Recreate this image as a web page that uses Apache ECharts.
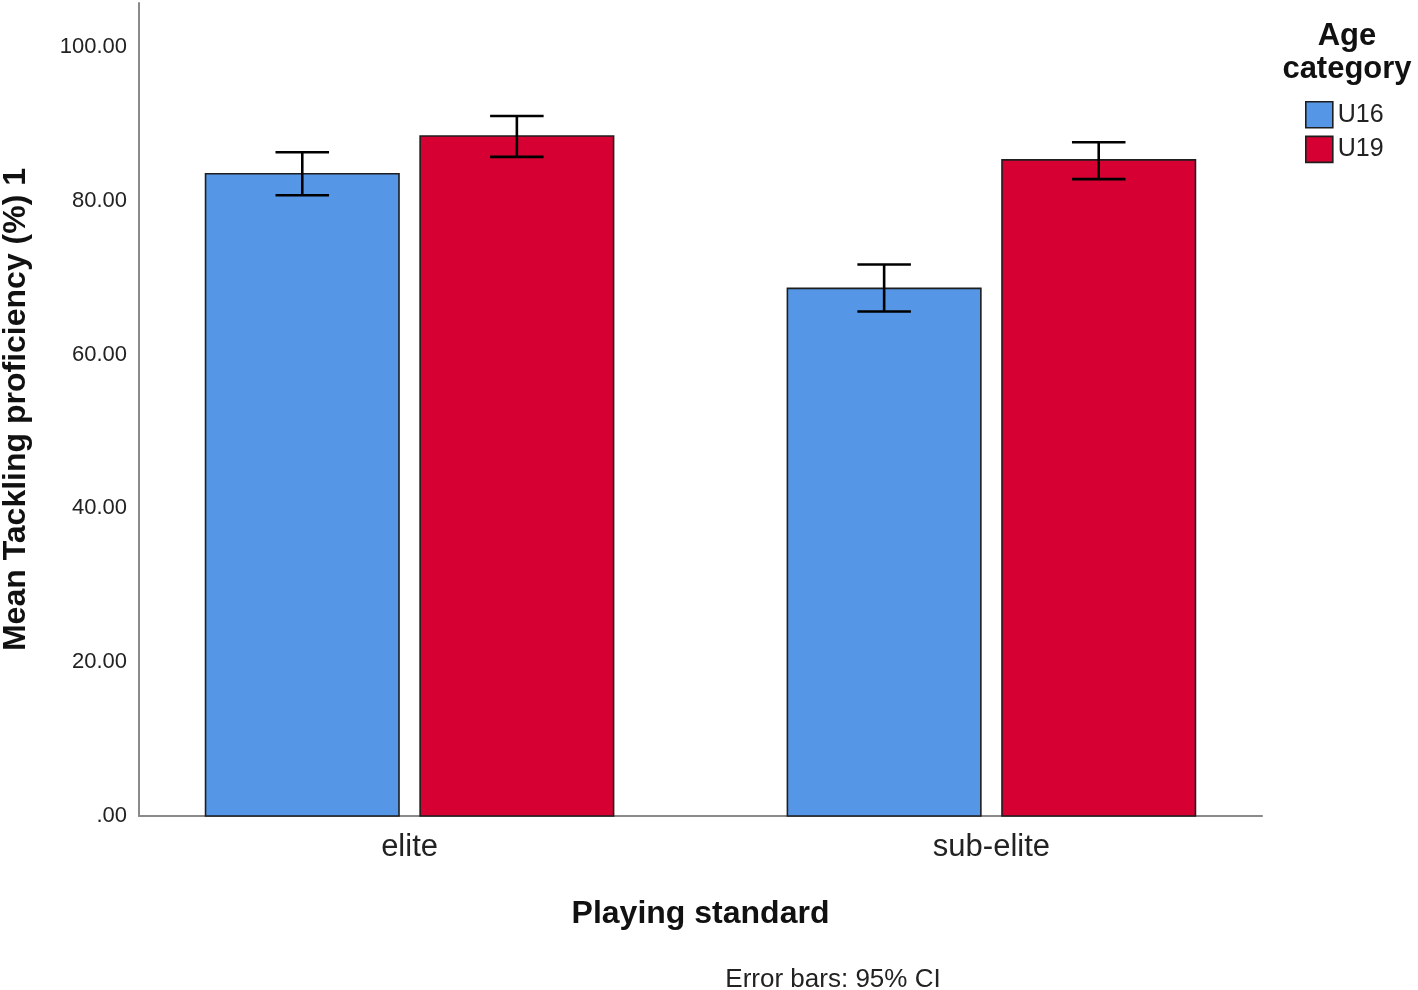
<!DOCTYPE html>
<html>
<head>
<meta charset="utf-8">
<script src="https://cdn.jsdelivr.net/npm/echarts@6/dist/echarts.min.js"></script>
<style>
  html, body { margin: 0; padding: 0; background: #fff; }
  #chart { width: 1418px; height: 990px; }
</style>
</head>
<body>
<div id="chart"></div>
<script>
const categories = ['elite', 'sub-elite'];
const groups = ['U16', 'U19'];
const meanU16 = [83.5, 68.6];
const meanU19 = [88.4, 85.3];
const lowU16 = [80.7, 65.6];
const highU16 = [86.3, 71.7];
const lowU19 = [85.7, 82.8];
const highU19 = [91.0, 87.6];
const yTicks = [0, 20, 40, 60, 80, 100];

const colors = { U16: '#5596E6', U19: '#D70032' };
const FONT = '"Liberation Sans", Arial, sans-serif';

// bar geometry in category units (one category = 1)
const barW = 0.3325;
const barOffset = 0.1844;
const capHalf = 0.046;

const chart = echarts.init(document.getElementById('chart'));

function barSeries(name, means, offset) {
    return {
        name: name,
        type: 'custom',
        itemStyle: { color: colors[name] },
        encode: { x: 0, y: 1 },
        data: means.map((v, i) => [i, v]),
        renderItem: (params, api) => {
            const x = api.value(0) + offset;
            const top = api.coord([x, api.value(1)]);
            const base = api.coord([x, 0]);
            const w = api.size([barW, 0])[0];
            return {
                type: 'rect',
                shape: { x: top[0] - w / 2, y: top[1], width: w, height: base[1] - top[1] },
                style: { fill: colors[name], stroke: '#1e1e1e', lineWidth: 1.6 }
            };
        },
        z: 2
    };
}

function errorSeries(name, lows, highs, offset) {
    return {
        name: name + ' CI',
        type: 'custom',
        encode: { x: 0, y: [1, 2] },
        data: lows.map((v, i) => [i, v, highs[i]]),
        renderItem: (params, api) => {
            const x = api.value(0) + offset;
            const lo = api.coord([x, api.value(1)]);
            const hi = api.coord([x, api.value(2)]);
            const h = api.size([capHalf, 0])[0];
            const style = { stroke: '#000', lineWidth: 2.6, fill: null };
            return {
                type: 'group',
                children: [
                    { type: 'line', shape: { x1: lo[0], y1: lo[1], x2: hi[0], y2: hi[1] }, style: style },
                    { type: 'line', shape: { x1: hi[0] - h, y1: hi[1], x2: hi[0] + h, y2: hi[1] }, style: style },
                    { type: 'line', shape: { x1: lo[0] - h, y1: lo[1], x2: lo[0] + h, y2: lo[1] }, style: style }
                ]
            };
        },
        z: 3
    };
}

const option = {
    animation: false,
    textStyle: { fontFamily: FONT },
    title: [
        {
            text: 'Age\ncategory',
            left: 1342,
            top: 15,
            textAlign: 'center',
            textStyle: { fontFamily: FONT, fontSize: 31, fontWeight: 'bold', color: '#111', lineHeight: 33 }
        },
        {
            text: 'Error bars: 95% CI',
            left: 828,
            top: 962,
            textAlign: 'center',
            textStyle: { fontFamily: FONT, fontSize: 26, fontWeight: 'normal', color: '#222' }
        }
    ],
    legend: {
        data: groups,
        orient: 'vertical',
        left: 1300,
        top: 96,
        icon: 'rect',
        itemWidth: 27,
        itemHeight: 26,
        itemGap: 7,
        itemStyle: { borderColor: '#1e1e1e', borderWidth: 1.6 },
        textStyle: { fontFamily: FONT, fontSize: 25, color: '#222' }
    },
    grid: { left: 139, right: 156, top: 3, bottom: 174, outerBoundsMode: 'none' },
    xAxis: {
        type: 'value',
        min: -0.465,
        max: 1.465,
        splitLine: { show: false },
        axisTick: { show: false },
        axisLine: { show: true, onZero: false, lineStyle: { color: '#8a8a8a', width: 2 } },
        axisLabel: {
            customValues: [0, 1],
            formatter: v => categories[Math.round(v)],
            fontFamily: FONT,
            fontSize: 31,
            color: '#222',
            margin: 16
        },
        name: 'Playing standard',
        nameLocation: 'middle',
        nameGap: 82,
        nameTextStyle: { fontFamily: FONT, fontSize: 32, fontWeight: 'bold', color: '#111' }
    },
    yAxis: {
        type: 'value',
        min: 0,
        max: 105.7,
        interval: 20,
        splitLine: { show: false },
        axisTick: { show: false },
        axisLine: { show: true, onZero: false, lineStyle: { color: '#8a8a8a', width: 2 } },
        axisLabel: {
            customValues: yTicks,
            formatter: v => (v === 0 ? '.00' : v.toFixed(2)),
            fontFamily: FONT,
            fontSize: 22,
            color: '#222',
            margin: 12
        },
        name: 'Mean Tackling proficiency (%) 1',
        nameLocation: 'middle',
        nameGap: 107,
        nameTextStyle: { fontFamily: FONT, fontSize: 32, fontWeight: 'bold', color: '#111' }
    },
    series: [
        barSeries('U16', meanU16, -barOffset),
        barSeries('U19', meanU19, barOffset),
        errorSeries('U16', lowU16, highU16, -barOffset),
        errorSeries('U19', lowU19, highU19, barOffset)
    ]
};

chart.setOption(option);
</script>
</body>
</html>
